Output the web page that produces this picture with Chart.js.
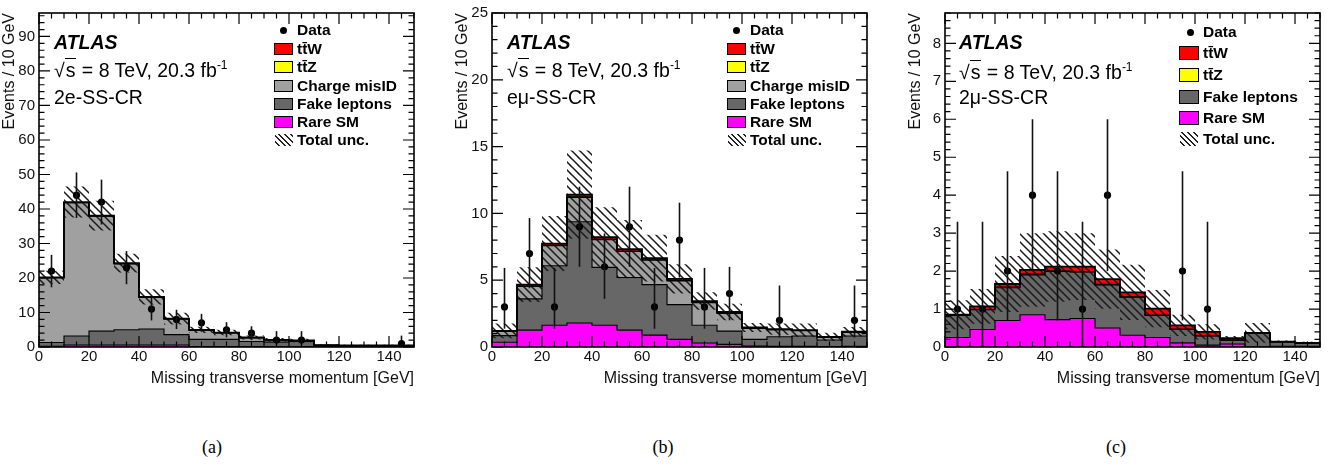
<!DOCTYPE html>
<html>
<head>
<meta charset="utf-8">
<title>Missing transverse momentum in the same-sign control regions</title>
<script src="https://cdn.jsdelivr.net/npm/chart.js@4.4.1/dist/chart.umd.min.js"></script>
<style>
  body { margin: 0; background: #fff; font-family: "Liberation Sans", Arial, sans-serif; color: #000; }
  #page { position: relative; width: 1332px; height: 475px; overflow: hidden; }
  .panel { position: absolute; top: 0; width: 426px; height: 400px; }
  .panel canvas { position: absolute; left: 0; top: 0; }
  .atlas { position: absolute; left: 54px; top: 31px; font: italic bold 19.5px/22px "Liberation Sans", Arial, sans-serif; }
  .info { position: absolute; left: 54px; font-size: 19.5px; line-height: 22px; white-space: nowrap; }
  .info sup { font-size: 12px; vertical-align: 8px; line-height: 0; }
  .sq { border-top: 1.5px solid #000; padding: 0 1px; }
  .leg { position: absolute; left: 297px; font: bold 15.5px/16px "Liberation Sans", Arial, sans-serif; white-space: nowrap; }
  .sw { position: absolute; left: 274px; width: 19px; height: 12px; box-sizing: border-box; border: 1px solid #000; }
  .dot { position: absolute; width: 7px; height: 7px; border-radius: 50%; background: #000; }
  .hatch { position: absolute; left: 275px; width: 18px; height: 12px;
    background: repeating-linear-gradient(45deg, #fff 0 2.5px, #222 2.5px 4px); }
  .caption { position: absolute; top: 436px; width: 60px; text-align: center;
    font: 18px/22px "Liberation Serif", "Times New Roman", serif; }
</style>
</head>
<body>
<div id="page">
  <div class="panel" style="left:0px">
    <canvas id="chart-ee" width="426" height="400"></canvas>
    <div class="atlas">ATLAS</div>
    <div class="info" style="top:59px"><span>√</span><span class="sq">s</span> = 8 TeV, 20.3 fb<sup>-1</sup></div>
    <div class="info" style="top:86px">2e-SS-CR</div>
    <div class="dot" style="left:279.5px;top:26.5px"></div><div class="leg" style="top:22px">Data</div>
    <div class="sw" style="top:43px;background:#ff0000"></div><div class="leg" style="top:41px">tt̄W</div>
    <div class="sw" style="top:61px;background:#ffff00"></div><div class="leg" style="top:59px">tt̄Z</div>
    <div class="sw" style="top:80px;background:#a0a0a0"></div><div class="leg" style="top:78px">Charge misID</div>
    <div class="sw" style="top:98px;background:#676767"></div><div class="leg" style="top:96px">Fake leptons</div>
    <div class="sw" style="top:116px;background:#ff00ff"></div><div class="leg" style="top:114px">Rare SM</div>
    <div class="hatch" style="top:134px"></div><div class="leg" style="top:132px">Total unc.</div>
  </div>
  <div class="panel" style="left:453px">
    <canvas id="chart-emu" width="426" height="400"></canvas>
    <div class="atlas">ATLAS</div>
    <div class="info" style="top:59px"><span>√</span><span class="sq">s</span> = 8 TeV, 20.3 fb<sup>-1</sup></div>
    <div class="info" style="top:86px">eμ-SS-CR</div>
    <div class="dot" style="left:279.5px;top:26.5px"></div><div class="leg" style="top:22px">Data</div>
    <div class="sw" style="top:43px;background:#ff0000"></div><div class="leg" style="top:41px">tt̄W</div>
    <div class="sw" style="top:61px;background:#ffff00"></div><div class="leg" style="top:59px">tt̄Z</div>
    <div class="sw" style="top:80px;background:#a0a0a0"></div><div class="leg" style="top:78px">Charge misID</div>
    <div class="sw" style="top:98px;background:#676767"></div><div class="leg" style="top:96px">Fake leptons</div>
    <div class="sw" style="top:116px;background:#ff00ff"></div><div class="leg" style="top:114px">Rare SM</div>
    <div class="hatch" style="top:134px"></div><div class="leg" style="top:132px">Total unc.</div>
  </div>
  <div class="panel" style="left:906px">
    <canvas id="chart-mumu" width="426" height="400"></canvas>
    <div class="atlas" style="left:53px">ATLAS</div>
    <div class="info" style="left:53px;top:61px"><span>√</span><span class="sq">s</span> = 8 TeV, 20.3 fb<sup>-1</sup></div>
    <div class="info" style="left:53px;top:86px">2μ-SS-CR</div>
    <div class="dot" style="left:280.5px;top:28.5px"></div><div class="leg" style="top:24px">Data</div>
    <div class="sw" style="left:273px;top:46px;width:20px;height:14px;background:#ff0000"></div><div class="leg" style="top:45px">tt̄W</div>
    <div class="sw" style="left:273px;top:68px;width:20px;height:14px;background:#ffff00"></div><div class="leg" style="top:67px">tt̄Z</div>
    <div class="sw" style="left:273px;top:90px;width:20px;height:14px;background:#676767"></div><div class="leg" style="top:89px">Fake leptons</div>
    <div class="sw" style="left:273px;top:111px;width:20px;height:14px;background:#ff00ff"></div><div class="leg" style="top:110px">Rare SM</div>
    <div class="hatch" style="left:274px;top:132px;height:14px"></div><div class="leg" style="top:131px">Total unc.</div>
  </div>
  <div class="caption" style="left:182px">(a)</div>
  <div class="caption" style="left:633px">(b)</div>
  <div class="caption" style="left:1086px">(c)</div>
</div>

<script>
// Missing transverse momentum, 10 GeV bins from 0 to 150 GeV
const binEdges = [0, 10, 20, 30, 40, 50, 60, 70, 80, 90, 100, 110, 120, 130, 140, 150];
const xTickValues = [0, 20, 40, 60, 80, 100, 120, 140];

// (a) 2e-SS-CR
const eeRareSM = [0.2, 0.6, 0.6, 0.6, 0.6, 0.6, 0.1, 0.1, 0.1, 0.05, 0.05, 0.02, 0.02, 0.02, 0.02];
const eeFakeLeptons = [1.1, 2.6, 4.0, 4.4, 4.6, 3.0, 2.1, 2.1, 1.5, 1.35, 1.55, 0.28, 0.28, 0.28, 0.28];
const eeChargeMisID = [18.8, 38.6, 33.3, 19.1, 9.2, 4.5, 2.7, 1.9, 1.1, 0.65, 0.25, 0.19, 0.14, 0.14, 0.14];
const eeTtZ = [0.02, 0.05, 0.05, 0.05, 0.05, 0.03, 0.02, 0.02, 0.01, 0.01, 0.01, 0, 0, 0, 0];
const eeTtW = [0.05, 0.15, 0.15, 0.15, 0.1, 0.1, 0.05, 0.05, 0.05, 0.02, 0.02, 0.01, 0.01, 0.01, 0.01];
const eeTotalUnc = [1.9, 4.5, 4.3, 2.7, 2.2, 1.7, 0.9, 0.8, 0.6, 0.5, 0.5, 0.2, 0.2, 0.2, 0.2];
const eeData = [22, 44, 42, 23, 11, 8, 7, 5, 4, 2, 2, 0, 0, 0, 1];
const eeDataErrDown = [4.7, 6.6, 6.5, 4.8, 3.3, 2.8, 2.6, 2.2, 2.0, 1.3, 1.3, 0, 0, 0, 0.83];
const eeDataErrUp = [4.7, 6.6, 6.5, 4.8, 3.3, 2.8, 2.6, 2.2, 2.0, 2.6, 2.6, 0, 0, 0, 2.3];
const eeYTicks = [0, 10, 20, 30, 40, 50, 60, 70, 80, 90];

// (b) emu-SS-CR
const emuRareSM = [0.35, 1.26, 1.63, 1.8, 1.63, 1.26, 0.89, 0.57, 0.3, 0.2, 0.07, 0.05, 0.05, 0.03, 0.05];
const emuFakeLeptons = [0.5, 2.34, 4.45, 7.57, 4.33, 3.94, 3.78, 2.6, 1.33, 0.99, 0.5, 0.72, 0.77, 0.49, 0.77];
const emuChargeMisID = [0.32, 0.93, 1.5, 1.83, 2.08, 1.95, 1.83, 1.78, 1.69, 1.33, 0.83, 0.52, 0.4, 0.2, 0.28];
const emuTtZ = [0.01, 0.04, 0.04, 0.05, 0.04, 0.04, 0.03, 0.03, 0.02, 0.02, 0.01, 0.01, 0.01, 0.01, 0.01];
const emuTtW = [0.02, 0.1, 0.12, 0.15, 0.15, 0.13, 0.12, 0.12, 0.1, 0.08, 0.05, 0.04, 0.03, 0.02, 0.03];
const emuTotalUnc = [0.55, 1.3, 2.06, 3.3, 2.23, 2.18, 1.75, 1.1, 0.66, 0.62, 0.34, 0.42, 0.5, 0.31, 0.36];
const emuData = [3, 7, 3, 9, 6, 9, 3, 8, 3, 4, 0, 2, 0, 0, 2];
const emuDataErrDown = [1.63, 2.6, 1.63, 3, 2.4, 3, 1.63, 2.8, 1.63, 2, 0, 1.29, 0, 0, 1.29];
const emuDataErrUp = [2.92, 2.65, 2.92, 3, 2.5, 3, 2.92, 2.8, 2.92, 2, 0, 2.6, 0, 0, 2.6];
const emuYTicks = [0, 5, 10, 15, 20, 25];

// (c) 2mu-SS-CR
const mumuRareSM = [0.25, 0.46, 0.7, 0.85, 0.72, 0.75, 0.5, 0.31, 0.25, 0.11, 0.05, 0.08, 0, 0.02, 0.02];
const mumuFakeLeptons = [0.58, 0.52, 0.86, 1.05, 1.27, 1.22, 1.13, 1.0, 0.58, 0.35, 0.24, 0.1, 0.36, 0.11, 0.08];
const mumuTtZ = [0, 0.01, 0.02, 0.02, 0.02, 0.02, 0.02, 0.01, 0.01, 0.01, 0.01, 0, 0, 0, 0];
const mumuTtW = [0.02, 0.08, 0.08, 0.11, 0.11, 0.13, 0.14, 0.12, 0.17, 0.1, 0.1, 0.05, 0.01, 0.01, 0.01];
const mumuTotalUnc = [0.38, 0.46, 0.74, 0.97, 0.93, 0.88, 0.78, 0.73, 0.49, 0.28, 0.2, 0.06, 0.26, 0.03, 0.03];
const mumuData = [1, 1, 2, 4, 2, 1, 4, 0, 0, 2, 1, 0, 0, 0, 0];
const mumuDataErrDown = [1, 1, 1.3, 2, 1.3, 1, 2, 0, 0, 1.3, 1, 0, 0, 0, 0];
const mumuDataErrUp = [2.3, 2.3, 2.63, 2, 2.63, 2.3, 2, 0, 0, 2.63, 2.3, 0, 0, 0, 0];
const mumuYTicks = [0, 1, 2, 3, 4, 5, 6, 7, 8];

const COLORS = {
  rare: "#ff00ff",
  fake: "#676767",
  misid: "#a0a0a0",
  ttZ: "#ffff00",
  ttW: "#ff0000",
};
const FONT = "'Liberation Sans', Arial, sans-serif";

// histogram outline: one point per left bin edge, plus the closing edge
function stepPoints(values) {
  return binEdges.map((x, i) => ({ x, y: values[Math.min(i, values.length - 1)] }));
}

function runningSums(components) {
  const sums = [];
  let acc = components[0].map(() => 0);
  components.forEach((c) => {
    acc = acc.map((v, i) => v + c[i]);
    sums.push(acc);
  });
  return sums;
}

function makeHatch(ctx) {
  const s = 8;
  const tile = document.createElement("canvas");
  tile.width = s;
  tile.height = s;
  const g = tile.getContext("2d");
  g.strokeStyle = "#1a1a1a";
  g.lineWidth = 1.5;
  g.beginPath();
  g.moveTo(-1, -1); g.lineTo(s + 1, s + 1);
  g.moveTo(-1, s - 1); g.lineTo(1, s + 1);
  g.moveTo(s - 1, -1); g.lineTo(s + 1, 1);
  g.stroke();
  return ctx.createPattern(tile, "repeat");
}

// data error bars, drawn through the chart scales
const errorBars = {
  id: "errorBars",
  afterDatasetsDraw(chart, args, opts) {
    const { ctx, scales: { x, y } } = chart;
    ctx.save();
    ctx.strokeStyle = "#111";
    ctx.lineWidth = 1.6;
    opts.values.forEach((n, i) => {
      if (!n) return;
      const px = x.getPixelForValue((binEdges[i] + binEdges[i + 1]) / 2);
      ctx.beginPath();
      ctx.moveTo(px, y.getPixelForValue(n - opts.down[i]));
      ctx.lineTo(px, y.getPixelForValue(n + opts.up[i]));
      ctx.stroke();
    });
    ctx.restore();
  },
};

// ATLAS style frame with inward ticks on all four sides
const atlasFrame = {
  id: "atlasFrame",
  afterDraw(chart, args, opts) {
    const { ctx, chartArea: a, scales: { x, y } } = chart;
    ctx.save();
    ctx.strokeStyle = "#000";
    ctx.lineWidth = 1.2;
    ctx.beginPath();
    const nx = Math.floor(x.max / opts.xMinor + 1e-6);
    for (let k = 0; k <= nx; k++) {
      const v = k * opts.xMinor;
      const len = k % (opts.xMajor / opts.xMinor) === 0 ? 11 : 5.5;
      const px = x.getPixelForValue(v);
      ctx.moveTo(px, a.bottom); ctx.lineTo(px, a.bottom - len);
      ctx.moveTo(px, a.top); ctx.lineTo(px, a.top + len);
    }
    const ny = Math.floor(y.max / opts.yMinor + 1e-6);
    const per = Math.round(opts.yMajor / opts.yMinor);
    for (let k = 0; k <= ny; k++) {
      const v = k * opts.yMinor;
      const len = k % per === 0 ? 11 : 5.5;
      const py = y.getPixelForValue(v);
      ctx.moveTo(a.left, py); ctx.lineTo(a.left + len, py);
      ctx.moveTo(a.right, py); ctx.lineTo(a.right - len, py);
    }
    ctx.stroke();
    ctx.lineWidth = 1.6;
    ctx.strokeRect(a.left, a.top, a.right - a.left, a.bottom - a.top);
    ctx.restore();
  },
};

function drawPanel(canvasId, p) {
  const ctx = document.getElementById(canvasId).getContext("2d");
  const stack = runningSums(p.components.map((c) => c.values));
  const total = stack[stack.length - 1];
  const datasets = [];

  p.components.forEach((c, k) => {
    datasets.push({
      label: c.label,
      data: stepPoints(stack[k]),
      stepped: true,
      borderColor: "#000",
      borderWidth: k === p.components.length - 1 ? 1.8 : 1.1,
      backgroundColor: c.color,
      fill: k === 0 ? "origin" : "-1",
      pointRadius: 0,
      order: 20 - k,
    });
  });

  datasets.push({
    label: "unc-low",
    data: stepPoints(total.map((v, i) => Math.max(v - p.unc[i], 0))),
    stepped: true,
    borderColor: "rgba(0,0,0,0)",
    borderWidth: 1,
    pointRadius: 0,
    fill: false,
    order: 5,
  });
  datasets.push({
    label: "Total unc.",
    data: stepPoints(total.map((v, i) => v + p.unc[i])),
    stepped: true,
    borderColor: "rgba(0,0,0,0)",
    borderWidth: 1,
    pointRadius: 0,
    backgroundColor: makeHatch(ctx),
    fill: "-1",
    order: 4,
  });

  const points = [];
  p.data.forEach((n, i) => {
    if (n > 0) points.push({ x: (binEdges[i] + binEdges[i + 1]) / 2, y: n });
  });
  datasets.push({
    label: "Data",
    data: points,
    showLine: false,
    pointRadius: 3.6,
    pointBackgroundColor: "#000",
    pointBorderWidth: 0,
    order: 1,
  });

  new Chart(ctx, {
    type: "line",
    data: { datasets },
    options: {
      responsive: false,
      animation: false,
      events: [],
      layout: { padding: { left: 0, right: 12, top: 10, bottom: 0 } },
      plugins: {
        legend: { display: false },
        tooltip: { enabled: false },
        filler: { drawTime: "beforeDatasetsDraw" },
        errorBars: { values: p.data, down: p.errDown, up: p.errUp },
        atlasFrame: { xMajor: 20, xMinor: 5, yMajor: p.yMajor, yMinor: p.yMinor },
      },
      scales: {
        x: {
          type: "linear",
          min: 0,
          max: 150,
          grid: { display: false, drawTicks: false },
          border: { display: false },
          afterBuildTicks: (scale) => {
            scale.ticks = xTickValues.map((v) => ({ value: v }));
          },
          afterFit: (scale) => { scale.height = 53; },
          ticks: { padding: 1, color: "#111", font: { family: FONT, size: 15 }, maxRotation: 0 },
          title: {
            display: true,
            text: "Missing transverse momentum [GeV]",
            align: "end",
            color: "#111",
            font: { family: FONT, size: 16 },
            padding: { top: 0, bottom: 12 },
          },
        },
        y: {
          min: 0,
          max: p.yMax,
          grid: { display: false, drawTicks: false },
          border: { display: false },
          afterBuildTicks: (scale) => {
            scale.ticks = p.yTicks.map((v) => ({ value: v }));
          },
          afterFit: (scale) => { scale.width = 39; },
          ticks: { padding: 4, color: "#111", font: { family: FONT, size: 15 } },
          title: {
            display: true,
            text: "Events / 10 GeV",
            align: "end",
            color: "#111",
            font: { family: FONT, size: 16 },
            padding: { top: 0, bottom: 0 },
          },
        },
      },
    },
    plugins: [errorBars, atlasFrame],
  });
}

drawPanel("chart-ee", {
  components: [
    { label: "Rare SM", values: eeRareSM, color: COLORS.rare },
    { label: "Fake leptons", values: eeFakeLeptons, color: COLORS.fake },
    { label: "Charge misID", values: eeChargeMisID, color: COLORS.misid },
    { label: "ttZ", values: eeTtZ, color: COLORS.ttZ },
    { label: "ttW", values: eeTtW, color: COLORS.ttW },
  ],
  unc: eeTotalUnc,
  data: eeData,
  errDown: eeDataErrDown,
  errUp: eeDataErrUp,
  yMax: 96.8,
  yTicks: eeYTicks,
  yMajor: 10,
  yMinor: 2,
});

drawPanel("chart-emu", {
  components: [
    { label: "Rare SM", values: emuRareSM, color: COLORS.rare },
    { label: "Fake leptons", values: emuFakeLeptons, color: COLORS.fake },
    { label: "Charge misID", values: emuChargeMisID, color: COLORS.misid },
    { label: "ttZ", values: emuTtZ, color: COLORS.ttZ },
    { label: "ttW", values: emuTtW, color: COLORS.ttW },
  ],
  unc: emuTotalUnc,
  data: emuData,
  errDown: emuDataErrDown,
  errUp: emuDataErrUp,
  yMax: 25,
  yTicks: emuYTicks,
  yMajor: 5,
  yMinor: 1,
});

drawPanel("chart-mumu", {
  components: [
    { label: "Rare SM", values: mumuRareSM, color: COLORS.rare },
    { label: "Fake leptons", values: mumuFakeLeptons, color: COLORS.fake },
    { label: "ttZ", values: mumuTtZ, color: COLORS.ttZ },
    { label: "ttW", values: mumuTtW, color: COLORS.ttW },
  ],
  unc: mumuTotalUnc,
  data: mumuData,
  errDown: mumuDataErrDown,
  errUp: mumuDataErrUp,
  yMax: 8.8,
  yTicks: mumuYTicks,
  yMajor: 1,
  yMinor: 0.2,
});
</script>
</body>
</html>
